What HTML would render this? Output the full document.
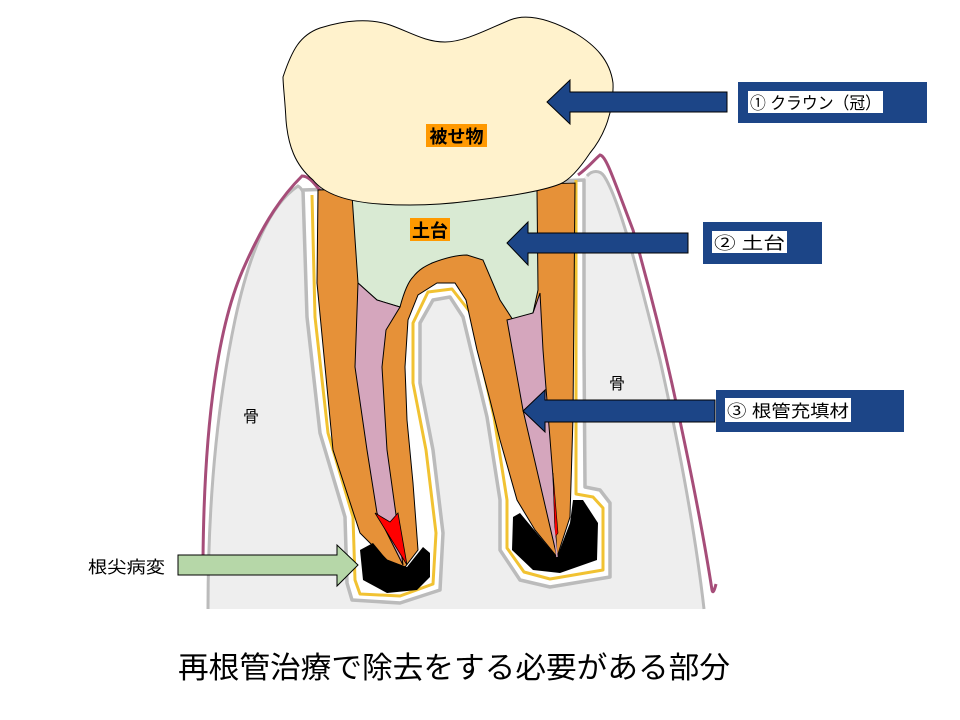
<!DOCTYPE html>
<html><head><meta charset="utf-8"><style>
html,body{margin:0;padding:0;background:#fff;}
svg{display:block;}
text{font-family:"Liberation Sans","Noto Sans CJK JP",sans-serif;}
</style></head><body>
<svg width="960" height="720" viewBox="0 0 960 720" xmlns="http://www.w3.org/2000/svg">
<!-- bone -->
<path d="M208,609 C208,520 214,420 235,320 C250,250 270,205 298,186 C305,190 306,200 307,230 L583,230 L583,180 C585,174 595,170 603,174 C620,200 640,280 660,360 C680,450 695,530 704,609 Z" fill="#eeeeee"/>
<path d="M208,609 C208,520 214,420 235,320 C250,250 270,205 298,186 C305,190 306,200 307,230" fill="none" stroke="#bbbbbb" stroke-width="3"/>
<path d="M587,176 C592,170 600,170 604,176 C620,200 640,280 660,360 C680,450 695,530 704,609" fill="none" stroke="#bbbbbb" stroke-width="3"/>
<!-- socket -->
<path d="M303,190 L307,317 L320,433 L345,517 L347,583 L352,600 L400,603 L440,590 L443,533 L433,450 L420,383 L420,323 L433,300 L450,297 L463,317 L487,417 L500,500 L500,550 L520,580 L550,587 L610,577 L610,503 L600,490 L585,487 L584,350 L584,180 Z" fill="#ffffff" stroke="#bbbbbb" stroke-width="3.5" stroke-linejoin="round"/>
<path d="M312,195 L315,317 L328,433 L353,517 L355,580 L360,594 L400,596 L433,584 L436,533 L426,450 L413,383 L413,323 L428,292 L452,289 L470,312 L494,417 L507,500 L507,548 L524,572 L550,579 L603,570 L603,508 L593,497 L576,494 L576,350 L576,180" fill="none" stroke="#f1c232" stroke-width="3" stroke-linejoin="round"/>
<!-- gums -->
<path d="M203,560 C204,440 215,330 245,265 C265,220 283,195 302,176 C310,176 316,186 322,193" fill="none" stroke="#a64d79" stroke-width="3"/>
<path d="M578,175 C588,168 594,160 600,155 C606,156 612,175 633,230 C650,290 665,350 677,407 C695,490 705,545 712,590 C713,595 715,588 716,584" fill="none" stroke="#a64d79" stroke-width="3"/>
<!-- dentin/roots -->
<path d="M318,190 L317,283 L333,450 L360,533 L387,560 L405,567 L418,550 L413,483 L407,420 L405,367 L408,320 L418,295 L437,283 L455,283 L466,300 L477,350 L490,400 L500,440 L517,500 L535,530 L557,557 L570,517 L573,417 L575,183 Z" fill="#e69138" stroke="#000" stroke-width="1"/>
<!-- green core -->
<path d="M352,195 L358,283 L377,300 L400,307 C404,292 408,282 413,277 C420,268 428,265 432,263 C445,258 456,255 467,255 L483,260 L500,300 L513,320 L533,313 L538,290 L537,190 Z" fill="#d9ead3" stroke="#000" stroke-width="1"/>
<!-- pink canals -->
<path d="M358,283 L355,367 L367,450 L377,513 L403,565 L387,450 L382,367 L386,330 L400,307 L377,300 Z" fill="#d5a6bd" stroke="#000" stroke-width="1"/>
<path d="M507,320 L533,313 L540,293 L543,350 L553,477 L557,557 L523,410 Z" fill="#d5a6bd" stroke="#000" stroke-width="1"/>
<!-- red -->
<path d="M375,513 L390,522 L398,513 L407,565 Z" fill="#ff0000" stroke="#000" stroke-width="0.8"/>
<path d="M553,473 L558,533 L555,537 Z" fill="#ff0000" stroke="#000" stroke-width="0.6"/>
<!-- lesions -->
<path d="M360,550 L363,580 L387,593 L417,590 L430,577 L430,553 L423,547 L407,567 L387,560 L373,543 Z" fill="#000"/>
<path d="M513,517 L512,550 L533,570 L560,573 L597,560 L598,523 L583,500 L573,500 L570,523 L557,557 L540,537 L520,513 Z" fill="#000"/>
<path d="M553,520 L557,557" stroke="#d5a6bd" stroke-width="1.5"/>
<!-- crown -->
<path d="M283,77 C292,50 300,35 320,28 C345,20 370,18 390,25 C410,32 425,42 445,42 C465,42 490,28 510,20 C530,12 555,22 575,33 C595,45 610,60 613,83 C614,110 605,135 590,153 C580,168 570,180 560,184 C540,192 503,197 470,201 C440,205 410,206 380,204 C350,202 325,195 313,180 C295,165 288,145 286,120 C285,100 283,85 283,77 Z" fill="#fff2cc" stroke="#000" stroke-width="1"/>
<!-- labels on tooth -->
<rect x="426" y="124" width="61" height="23" fill="#ff9900"/>
<text x="456.5" y="143" font-size="18" font-weight="bold" text-anchor="middle">被せ物</text>
<rect x="410" y="218" width="40" height="23" fill="#ff9900"/>
<text x="430" y="237" font-size="18" font-weight="bold" text-anchor="middle">土台</text>
<text x="251" y="422" font-size="16" text-anchor="middle">骨</text>
<text x="617" y="389" font-size="16" text-anchor="middle">骨</text>
<!-- blue arrows -->
<path d="M727,92 L570,92 L570,80 L547,102 L570,124 L570,112 L727,112 Z" fill="#1c4587" stroke="#000" stroke-width="1"/>
<path d="M688,233 L528,233 L528,222 L507,243 L528,265 L528,253 L688,253 Z" fill="#1c4587" stroke="#000" stroke-width="1"/>
<path d="M715,400 L545,400 L545,390 L523,411 L545,432 L545,422 L715,422 Z" fill="#1c4587" stroke="#000" stroke-width="1"/>
<!-- green arrow -->
<path d="M178,555 L337,555 L337,545 L358,565 L337,586 L337,575 L178,575 Z" fill="#b6d7a8" stroke="#000" stroke-width="1"/>
<text x="88" y="573" font-size="17" textLength="77" lengthAdjust="spacingAndGlyphs">根尖病変</text>
<!-- label boxes -->
<rect x="738" y="82" width="189" height="41" fill="#1c4587"/>
<rect x="748" y="91" width="135" height="22" fill="#fff"/>
<text x="750" y="109" font-size="17" textLength="131" lengthAdjust="spacingAndGlyphs">①  クラウン（冠）</text>
<rect x="703" y="222" width="119" height="42" fill="#1c4587"/>
<rect x="712" y="231" width="75" height="22" fill="#fff"/>
<text x="714" y="249" font-size="17" textLength="71" lengthAdjust="spacingAndGlyphs">②  土台</text>
<rect x="716" y="390" width="188" height="42" fill="#1c4587"/>
<rect x="725" y="398" width="126" height="24" fill="#fff"/>
<text x="727" y="417" font-size="17" textLength="122" lengthAdjust="spacingAndGlyphs">③  根管充填材</text>
<!-- caption -->
<text x="454" y="678" font-size="30" text-anchor="middle" textLength="552" lengthAdjust="spacingAndGlyphs">再根管治療で除去をする必要がある部分</text>
</svg>
</body></html>
